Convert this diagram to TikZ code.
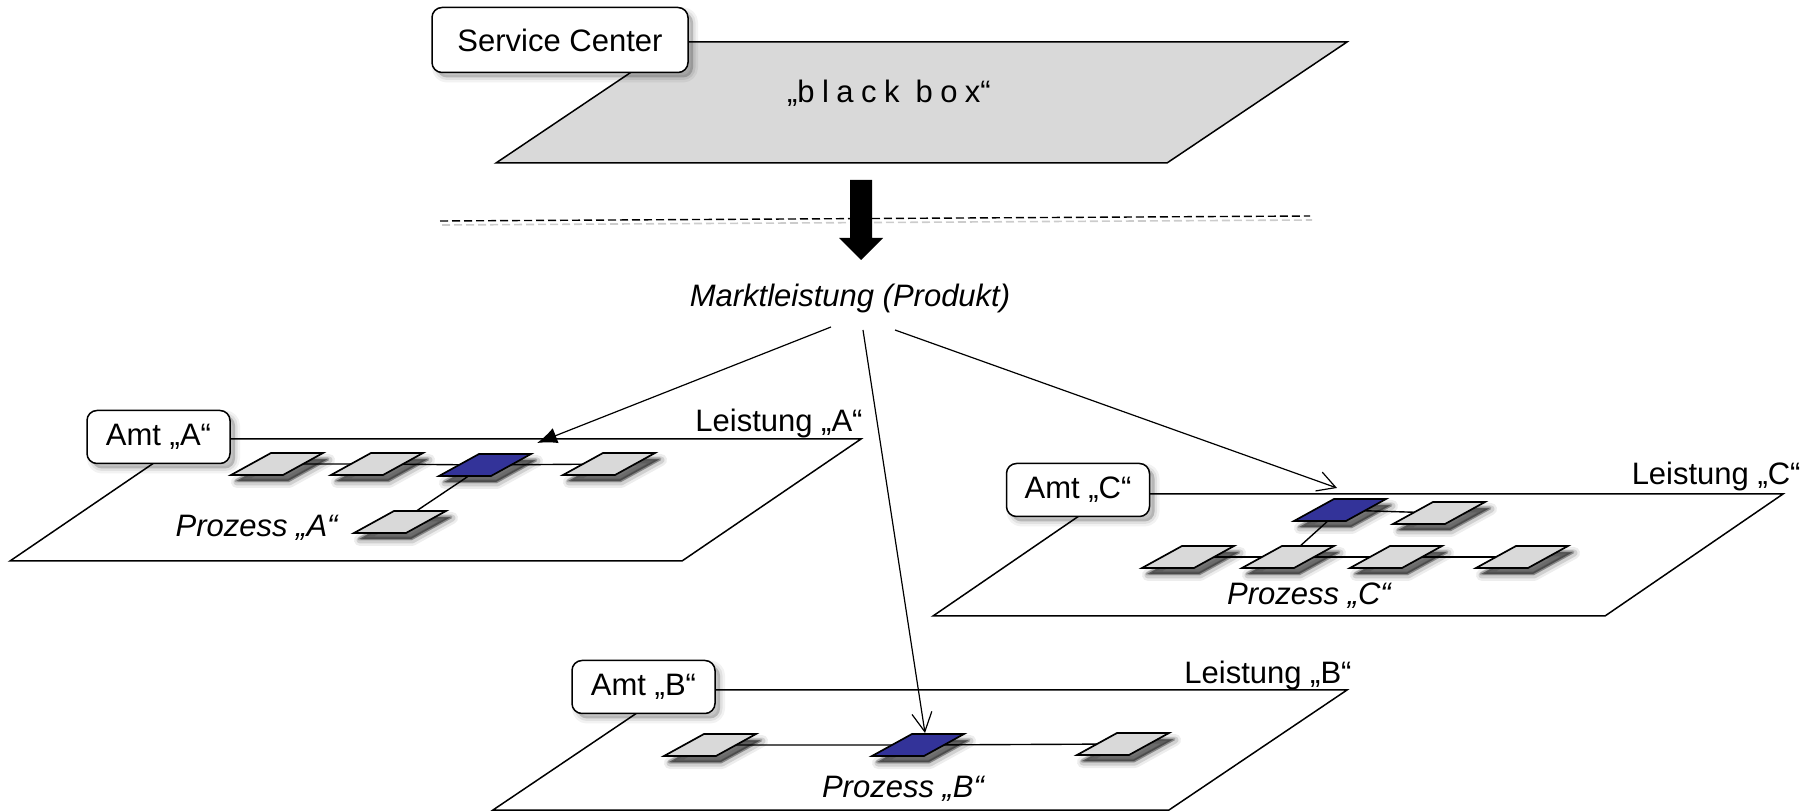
\documentclass[tikz,border=0pt]{standalone}
\usepackage{fontspec}
\setmainfont{Liberation Sans}
\newfontfamily\spacedfont[LetterSpace=24]{Liberation Sans}
\usetikzlibrary{arrows.meta}

\definecolor{planegray}{HTML}{D9D9D9}
\definecolor{procgray}{HTML}{D9D9D9}
\definecolor{procblue}{HTML}{333399}

\tikzset{
  every node/.style={font=\fontsize{15.5}{18}\selectfont, inner sep=0pt},
  softshadow/.style={
    preaction={draw=black, fill=black, line width=5pt, line join=round, opacity=0.05,
               transform canvas={shift={(2.5pt,-2.5pt)}}},
    preaction={draw=black, fill=black, line width=2.5pt, line join=round, opacity=0.07,
               transform canvas={shift={(2.5pt,-2.5pt)}}},
    preaction={draw=none, fill=black, opacity=0.08,
               transform canvas={shift={(2.5pt,-2.5pt)}}}},
  darkshadow/.style={
    preaction={draw=black, fill=black, line width=6pt, line join=round, opacity=0.07,
               transform canvas={shift={(3pt,-3.5pt)}}},
    preaction={draw=black, fill=black, line width=3.5pt, line join=round, opacity=0.12,
               transform canvas={shift={(3pt,-3.5pt)}}},
    preaction={draw=black, fill=black, line width=1.5pt, line join=round, opacity=0.2,
               transform canvas={shift={(2.5pt,-3pt)}}},
    preaction={draw=none, fill=black, opacity=0.3,
               transform canvas={shift={(2.5pt,-3pt)}}}},
  plane/.style={draw=black, line width=0.75pt, fill=white, line join=miter},
  toplane/.style={plane, fill=planegray},
  label box/.style={draw=black, line width=0.75pt, fill=white, rounded corners=5pt,
    minimum width=71.5pt, minimum height=26.5pt, softshadow},
  center box/.style={label box, minimum width=128pt, minimum height=32.5pt},
  procshape/.style={draw=black, line width=0.85pt, line join=miter, darkshadow},
  link/.style={draw=black, line width=0.7pt},
  conn/.style={draw=black, line width=0.6pt},
  ptext/.style={font=\fontsize{15.5}{18}\selectfont\itshape},
}

% one process step: a small slanted box centred on a named coordinate
\newcommand\procdraw[2]{%
  \path[procshape, fill=#2] (#1) ++(-46,11) -- ++(52,0) -- ++(40,-22) -- ++(-52,0) -- cycle;}

\begin{document}
\begin{tikzpicture}[x=0.5pt, y=-0.5pt]
\useasboundingbox (0,0) rectangle (1817,812);

% ---- service center level ----
\path[toplane] (676,42) -- (1347,42) -- (1167,163) -- (496,163) -- cycle;
\node[anchor=base] (bb) at (889,103) {„{\spacedfont black box}“};
\node[center box] (sc) at (560,40) {Service Center};

\draw[line width=0.8pt, black!20, dash pattern=on 4pt off 2pt] (442,225) -- (1312,220);
\draw[line width=0.7pt, dash pattern=on 4pt off 2pt] (440,221) -- (1310,216);

\fill (850,180) -- (872,180) -- (872,238) -- (883,238) -- (861,260)
      -- (839,238) -- (850,238) -- cycle;

\node[ptext, anchor=base] (mkt) at (850,307) {Marktleistung (Produkt)};

% ---- planes of the offices ----
\path[plane] (189,439) -- (861,439) -- (682,561) -- (10,561) -- cycle;
\path[plane] (1111,494) -- (1783,494) -- (1605,616) -- (933,616) -- cycle;
\path[plane] (671,690) -- (1347,690) -- (1169,810) -- (493,810) -- cycle;

% ---- process steps ----
\coordinate (a1) at (277,464);
\coordinate (a2) at (377,464);
\coordinate (a3) at (485,465);
\coordinate (a4) at (609,464);
\coordinate (a5) at (400,522);

\coordinate (c1) at (1340,510);
\coordinate (c2) at (1439,513);
\coordinate (c3) at (1188,557);
\coordinate (c4) at (1288,557);
\coordinate (c5) at (1396,557);
\coordinate (c6) at (1522,557);

\coordinate (b1) at (710,745);
\coordinate (b2) at (918,745);
\coordinate (b3) at (1123,744);

\draw[link] (a1) -- (a2) -- (a3) -- (a4);
\draw[link] (a5) -- (a3);
\draw[link] (c1) -- (c2);
\draw[link] (c3) -- (c4) -- (c5) -- (c6);
\draw[link] (c4) -- (c1);
\draw[link] (b1) -- (b2) -- (b3);

\procdraw{a1}{procgray}
\procdraw{a2}{procgray}
\procdraw{a3}{procblue}
\procdraw{a4}{procgray}
\procdraw{a5}{procgray}

\procdraw{c1}{procblue}
\procdraw{c2}{procgray}
\procdraw{c3}{procgray}
\procdraw{c4}{procgray}
\procdraw{c5}{procgray}
\procdraw{c6}{procgray}

\procdraw{b1}{procgray}
\procdraw{b2}{procblue}
\procdraw{b3}{procgray}

% ---- labels ----
\node[label box] (amtA) at (158.5,437) {Amt „A“};
\node[label box] (amtC) at (1078,490) {Amt „C“};
\node[label box] (amtB) at (643.5,687) {Amt „B“};

\node[anchor=base east] (leiA) at (863,432) {Leistung „A“};
\node[anchor=base east] (leiC) at (1801,485) {Leistung „C“};
\node[anchor=base east] (leiB) at (1352,683) {Leistung „B“};

\node[ptext, anchor=base east] (proA) at (338,537) {Prozess „A“};
\node[ptext, anchor=base] (proC) at (1309,605) {Prozess „C“};
\node[ptext, anchor=base] (proB) at (903,798) {Prozess „B“};

% ---- distribution of the product ----
\coordinate (mA) at (831,327);
\coordinate (mB) at (863,330);
\coordinate (mC) at (895,330);
\coordinate (tA) at (537,443);
\coordinate (tB) at (925,733);
\coordinate (tC) at (1337,488);

\draw[conn, -{Latex[length=10pt,width=8pt]}] (mA) -- (tA);
\draw[conn, -{Straight Barb[length=9.5pt,width=10pt]}] (mB) -- (tB);
\draw[conn, -{Straight Barb[length=9pt,width=10pt]}] (mC) -- (tC);
\end{tikzpicture}
\end{document}
